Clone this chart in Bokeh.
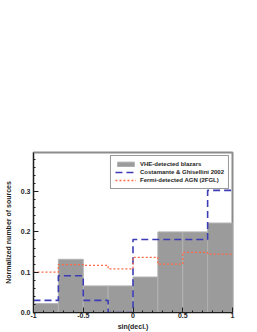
from bokeh.plotting import figure
from bokeh.models import FixedTicker, Range1d, Legend, LegendItem
from bokeh.embed import file_html
from bokeh.resources import INLINE

# bin edges of sin(decl.)
bin_edges = [-1.0, -0.75, -0.5, -0.25, 0.0, 0.25, 0.5, 0.75, 1.0]
# series (normalized number of sources per bin)
vhe_blazars = [0.022, 0.132, 0.066, 0.066, 0.088, 0.200, 0.200, 0.222]
costamante_2002 = [0.030, 0.091, 0.030, 0.000, 0.181, 0.181, 0.181, 0.303]
fermi_2fgl = [0.100, 0.119, 0.117, 0.108, 0.137, 0.120, 0.149, 0.145]

x_ticks = [-1, -0.5, 0, 0.5, 1]
x_tick_labels = ["-1", "-0.5", "0", "0.5", "1"]
y_ticks = [0.0, 0.1, 0.2, 0.3]
y_tick_labels = ["0.0", "0.1", "0.2", "0.3"]
x_title = "sin(decl.)"
y_title = "Normalized number of sources"
series_names = ["VHE-detected blazars", "Costamante & Ghisellini 2002",
                "Fermi-detected AGN (2FGL)"]

FONT = "Liberation Sans"
TXT = "#1e1e1e"

p = figure(width=257, height=332, output_backend="svg", toolbar_location=None,
           x_range=Range1d(-1, 1), y_range=Range1d(0, 0.397),
           min_border_left=33, min_border_right=25, min_border_top=152,
           min_border_bottom=19)

p.background_fill_color = "white"
p.border_fill_color = "white"
p.outline_line_color = "#8c8c8c"
p.outline_line_width = 2
p.grid.visible = False

bars = p.quad(left=bin_edges[:-1], right=bin_edges[1:], bottom=0, top=vhe_blazars,
              fill_color="#9b9b9b", line_color="#b2b2b2", line_width=1)

cg = p.step(x=bin_edges, y=costamante_2002 + [costamante_2002[-1]], mode="after",
            line_color="#3c3cb4", line_width=1.6, line_dash="7 4")
fm = p.step(x=bin_edges, y=fermi_2fgl + [fermi_2fgl[-1]], mode="after",
            line_color="#ff6a46", line_width=1.3, line_dash="2 2")

for ax in (p.xaxis[0], p.yaxis[0]):
    ax.major_tick_out = 0
    ax.major_tick_in = 5
    ax.minor_tick_out = 0
    ax.minor_tick_in = 2
    ax.axis_line_color = TXT
    ax.major_tick_line_color = TXT
    ax.minor_tick_line_color = TXT
    ax.major_label_text_font = FONT
    ax.major_label_text_font_style = "bold"
    ax.major_label_text_font_size = "7px"
    ax.major_label_text_color = TXT
    ax.axis_label_text_font = FONT
    ax.axis_label_text_font_style = "bold"
    ax.axis_label_text_font_size = "7px"
    ax.axis_label_text_color = TXT

p.xaxis[0].ticker = FixedTicker(ticks=x_ticks,
                                minor_ticks=[i / 10 for i in range(-10, 11)])
p.xaxis[0].major_label_overrides = dict(zip(x_ticks, x_tick_labels))
p.xaxis[0].axis_label = x_title
p.xaxis[0].major_label_standoff = 0
p.xaxis[0].axis_label_standoff = 2

p.yaxis[0].ticker = FixedTicker(ticks=y_ticks,
                                minor_ticks=[i / 50 for i in range(0, 20)])
p.yaxis[0].major_label_overrides = dict(zip(y_ticks, y_tick_labels))
p.yaxis[0].axis_label = y_title
p.yaxis[0].major_label_standoff = 3
p.yaxis[0].axis_label_standoff = 6

legend = Legend(items=[LegendItem(label=series_names[0], renderers=[bars]),
                       LegendItem(label=series_names[1], renderers=[cg]),
                       LegendItem(label=series_names[2], renderers=[fm])],
                location="top_right")
legend.label_text_font = FONT
legend.label_text_font_style = "bold"
legend.label_text_font_size = "6px"
legend.label_text_color = TXT
legend.label_height = 8
legend.label_standoff = 4
legend.glyph_width = 21
legend.glyph_height = 6
legend.spacing = 0
legend.padding = 4
legend.margin = 3
legend.border_line_color = "#333333"
legend.border_line_width = 1
legend.background_fill_color = "white"
legend.background_fill_alpha = 1
p.add_layout(legend)

open("out.html", "w").write(file_html(p, INLINE))
